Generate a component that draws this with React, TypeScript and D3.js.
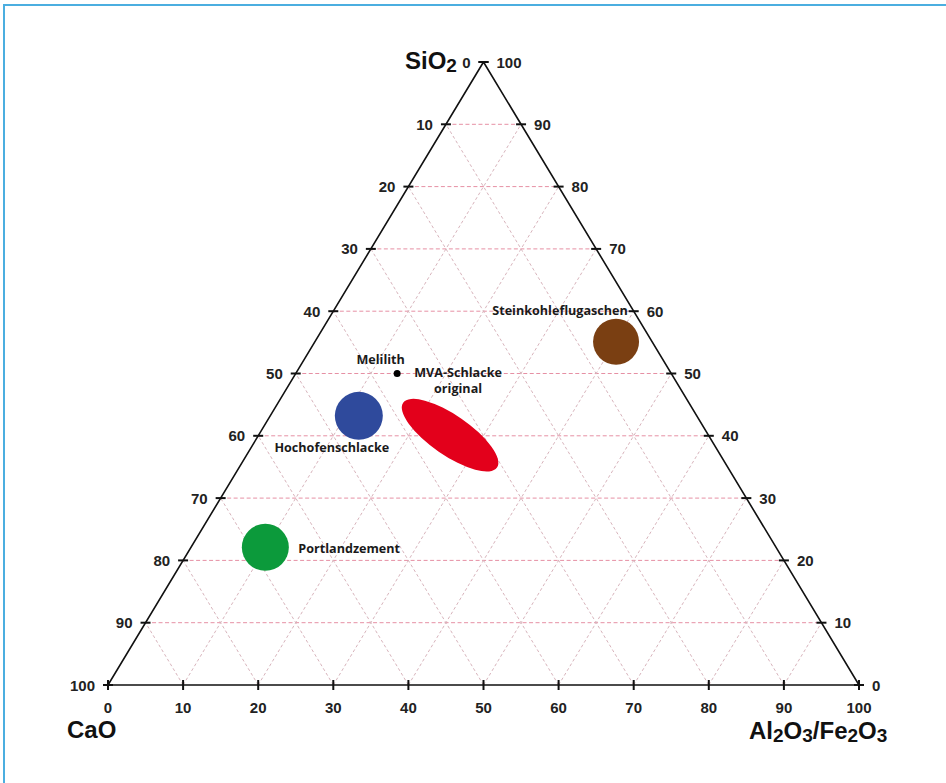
import React from "react";
import * as d3 from "d3";

// Ternary compositions (CaO, SiO2, Al2O3/Fe2O3) in percent
const materialNames = ["Melilith", "Hochofenschlacke", "MVA-Schlacke", "Steinkohleflugaschen", "Portlandzement"];
const caoValues = [36.5, 45.0, 34.4, 4.8, 68.0];
const sio2Values = [50.0, 43.2, 40.1, 55.1, 22.1];
const alValues = [13.5, 11.8, 25.5, 40.1, 9.9];

const tickValues = [0, 10, 20, 30, 40, 50, 60, 70, 80, 90, 100];
const gridValues = [10, 20, 30, 40, 50, 60, 70, 80, 90];

// Marker appearance per material
const markerStyle = [
  { rx: 3.5, ry: 3.5, angle: 0, fill: "#000000" },
  { rx: 24, ry: 24, angle: 0, fill: "#2f4a9c" },
  { rx: 57, ry: 20, angle: 34.6, fill: "#e3001b" },
  { rx: 23, ry: 23, angle: 0, fill: "#7a3f12" },
  { rx: 23.5, ry: 23.5, angle: 0, fill: "#0c9a3b" },
];

// Label placement relative to each marker centre
const labelStyle = [
  { lines: ["Melilith"], dx: -16.5, dy: -10, anchor: "middle" },
  { lines: ["Hochofenschlacke"], dx: -27, dy: 36, anchor: "middle" },
  { lines: ["MVA-Schlacke", "original"], dx: 8, dy: -58, anchor: "middle" },
  { lines: ["Steinkohleflugaschen"], dx: -56, dy: -27, anchor: "middle" },
  { lines: ["Portlandzement"], dx: 33, dy: 6, anchor: "start" },
];

const W = 946;
const H = 783;

// Bottom edge scale (Al2O3/Fe2O3) and vertical scale (SiO2)
const xScale = d3.scaleLinear().domain([0, 100]).range([108, 859]);
const yScale = d3.scaleLinear().domain([0, 100]).range([685, 62]);

const pos = (sio2: number, al: number): [number, number] => [xScale(al + sio2 / 2), yScale(sio2)];

const tickFont = "'Liberation Sans', Arial, sans-serif";
const labelFont = "'Open Sans', sans-serif";

export default function App() {
  const [ax, ay] = pos(100, 0);
  const [bx, by] = pos(0, 0);
  const [cx, cy] = pos(0, 100);
  const outline = d3.line()([[ax, ay], [bx, by], [cx, cy], [ax, ay]]) || "";

  return (
    <svg
      width={W}
      height={H}
      style={{ position: "absolute", left: 0, top: 0, display: "block", background: "#ffffff" }}
    >
      {/* frame */}
      <path d={`M4,${H + 5} L4,5 L${W + 5},5`} fill="none" stroke="#4baee0" strokeWidth={2} />

      {/* grid: constant SiO2 */}
      {gridValues.map((s) => {
        const [x1, y1] = pos(s, 0);
        const [x2, y2] = pos(s, 100 - s);
        return (
          <line key={`h${s}`} x1={x1} y1={y1} x2={x2} y2={y2} stroke="#e690a4" strokeWidth={1} strokeDasharray="4,2.5" />
        );
      })}
      {/* grid: constant Al2O3/Fe2O3 */}
      {gridValues.map((a) => {
        const [x1, y1] = pos(0, a);
        const [x2, y2] = pos(100 - a, a);
        return (
          <line key={`a${a}`} x1={x1} y1={y1} x2={x2} y2={y2} stroke="#d8b4bc" strokeWidth={1} strokeDasharray="3,2.5" />
        );
      })}
      {/* grid: constant CaO */}
      {gridValues.map((c) => {
        const [x1, y1] = pos(0, 100 - c);
        const [x2, y2] = pos(100 - c, 0);
        return (
          <line key={`c${c}`} x1={x1} y1={y1} x2={x2} y2={y2} stroke="#d8b4bc" strokeWidth={1} strokeDasharray="3,2.5" />
        );
      })}

      {/* triangle */}
      <path d={outline} fill="none" stroke="#111111" strokeWidth={1.6} />

      {/* ticks */}
      {tickValues.map((v) => {
        const [lx, ly] = pos(v, 0);
        const [rx, ry] = pos(v, 100 - v);
        const [bx2, by2] = pos(0, v);
        return (
          <g key={`t${v}`} stroke="#111111" strokeWidth={2}>
            <line x1={lx - 5} y1={ly} x2={lx + 5} y2={ly} />
            <line x1={rx - 5} y1={ry} x2={rx + 5} y2={ry} />
            <line x1={bx2} y1={by2 - 5} x2={bx2} y2={by2 + 5} />
          </g>
        );
      })}

      {/* tick labels */}
      <g fontFamily={tickFont} fontWeight={700} fontSize={15} fill="#222222">
        {tickValues.map((v) => {
          const [lx, ly] = pos(100 - v, 0);
          return (
            <text key={`ll${v}`} x={lx - 13} y={ly} textAnchor="end" dominantBaseline="central">
              {v}
            </text>
          );
        })}
        {tickValues.map((v) => {
          const [rx, ry] = pos(v, 100 - v);
          return (
            <text key={`rl${v}`} x={rx + 13} y={ry} textAnchor="start" dominantBaseline="central">
              {v}
            </text>
          );
        })}
        {tickValues.map((v) => {
          const [x, y] = pos(0, v);
          return (
            <text key={`bl${v}`} x={x} y={y + 28} textAnchor="middle">
              {v}
            </text>
          );
        })}
      </g>

      {/* axis titles */}
      <g fontFamily={tickFont} fontWeight={700} fontSize={24} fill="#111111">
        <text x={405} y={69}>
          SiO<tspan fontSize={19} dy={3}>2</tspan>
        </text>
        <text x={67} y={738}>CaO</text>
        <text x={749} y={739}>
          Al<tspan fontSize={19} dy={3}>2</tspan>
          <tspan dy={-3}>O</tspan>
          <tspan fontSize={19} dy={3}>3</tspan>
          <tspan dy={-3}>/Fe</tspan>
          <tspan fontSize={19} dy={3}>2</tspan>
          <tspan dy={-3}>O</tspan>
          <tspan fontSize={19} dy={3}>3</tspan>
        </text>
      </g>

      {/* material fields */}
      {materialNames.map((name, i) => {
        const [x, y] = pos(sio2Values[i], alValues[i]);
        const m = markerStyle[i];
        return (
          <ellipse
            key={`m${name}`}
            cx={x}
            cy={y}
            rx={m.rx}
            ry={m.ry}
            fill={m.fill}
            transform={`rotate(${m.angle},${x},${y})`}
          />
        );
      })}

      {/* material labels */}
      <g fontFamily={labelFont} fontWeight={700} fontSize={12.6} fill="#1a1a1a">
        {materialNames.map((name, i) => {
          const [x, y] = pos(sio2Values[i], alValues[i]);
          const l = labelStyle[i];
          return (
            <text key={`l${name}`} x={x + l.dx} y={y + l.dy} textAnchor={l.anchor as any}>
              {l.lines.map((line, j) => (
                <tspan key={j} x={x + l.dx} dy={j === 0 ? 0 : 16}>
                  {line}
                </tspan>
              ))}
            </text>
          );
        })}
      </g>
    </svg>
  );
}
